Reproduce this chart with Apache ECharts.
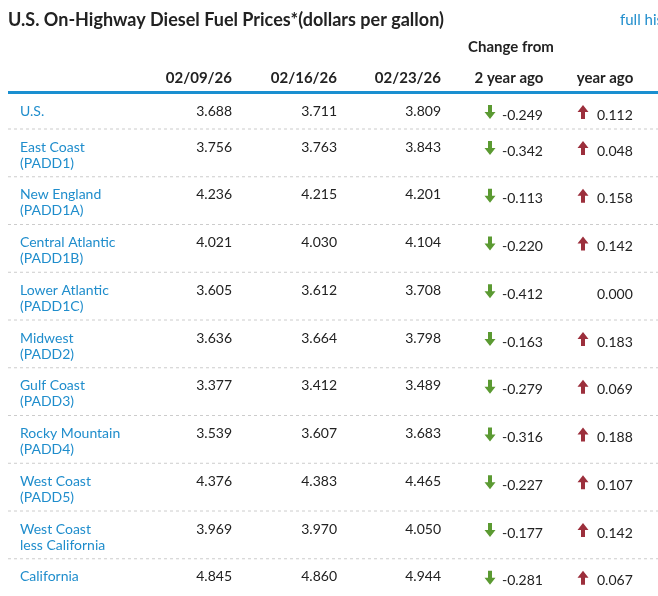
<!DOCTYPE html>
<html><head><meta charset="utf-8">
<script src="https://cdn.jsdelivr.net/npm/echarts@6/dist/echarts.min.js"></script>
<style>html,body{margin:0;background:#fff}#c{width:658px;height:596px}</style>
</head><body><div id="c"></div>
<script>
const dates=['02/09/26','02/16/26','02/23/26'];
const regions=[['U.S.'],['East Coast','(PADD1)'],['New England','(PADD1A)'],['Central Atlantic','(PADD1B)'],['Lower Atlantic','(PADD1C)'],['Midwest','(PADD2)'],['Gulf Coast','(PADD3)'],['Rocky Mountain','(PADD4)'],['West Coast','(PADD5)'],['West Coast','less California'],['California']];
const wk1=[3.688,3.756,4.236,4.021,3.605,3.636,3.377,3.539,4.376,3.969,4.845];
const wk2=[3.711,3.763,4.215,4.030,3.612,3.664,3.412,3.607,4.383,3.970,4.860];
const wk3=[3.809,3.843,4.201,4.104,3.708,3.798,3.489,3.683,4.465,4.050,4.944];
const chg2y=[-0.249,-0.342,-0.113,-0.220,-0.412,-0.163,-0.279,-0.316,-0.227,-0.177,-0.281];
const chg1y=[0.112,0.048,0.158,0.142,0.000,0.183,0.069,0.188,0.107,0.142,0.067];

const F='Lato, "Open Sans", sans-serif';
const blue='#1f8dcc', green='#5b9a32', red='#9c2f3c';
const g=[];
function txt(x,y,s,o){g.push({type:'text',x:x,y:y,style:Object.assign({text:s,fill:'#222',font:'14px '+F,textVerticalAlign:'middle'},o||{})});}
function arrow(cx,cy,up,col){
  const d=up?-1:1;
  g.push({type:'polygon',shape:{points:[[cx-2,cy-7*d],[cx+2,cy-7*d],[cx+2,cy],[cx+5.5,cy],[cx,cy+7*d],[cx-5.5,cy],[cx-2,cy]]},style:{fill:col}});
}
txt(8,20,'U.S. On-Highway Diesel Fuel Prices*(dollars per gallon)',{font:'bold 18px '+F});
txt(620,20,'full history',{fill:blue,font:'15px '+F});
txt(511,47,'Change from',{font:'bold 15px '+F,textAlign:'center'});
const colR=[232,337,441];
dates.forEach((d,i)=>txt(colR[i],78,d,{font:'bold 15px '+F,textAlign:'right'}));
txt(509,78,'2 year ago',{font:'bold 15px '+F,textAlign:'center'});
txt(605,78,'year ago',{font:'bold 15px '+F,textAlign:'center'});
g.push({type:'rect',shape:{x:8,y:91,width:650,height:3},style:{fill:'#1a8fd0'}});
regions.forEach((r,i)=>{
  const y=i===0?111:147+47.75*(i-1);
  if(i>0) g.push({type:'line',shape:{x1:8,y1:y-18,x2:658,y2:y-18},style:{stroke:'#ccc',lineDash:[3,3],lineWidth:1}});
  txt(20,y,r[0],{fill:blue});
  if(r[1]) txt(20,y+16,r[1],{fill:blue});
  [wk1,wk2,wk3].forEach((a,k)=>txt(colR[k],y,a[i].toFixed(3),{textAlign:'right'}));
  const cy=y+4;
  const a=chg2y[i], b=chg1y[i];
  if(a!==0) arrow(490,cy-3,a>0,a>0?red:green);
  txt(502,cy,a.toFixed(3));
  if(b!==0) arrow(583,cy-3,b>0,b>0?red:green);
  txt(597,cy,b.toFixed(3));
});
const chart=echarts.init(document.getElementById('c'));
chart.setOption({animation:false,graphic:{elements:g}});
</script></body></html>
